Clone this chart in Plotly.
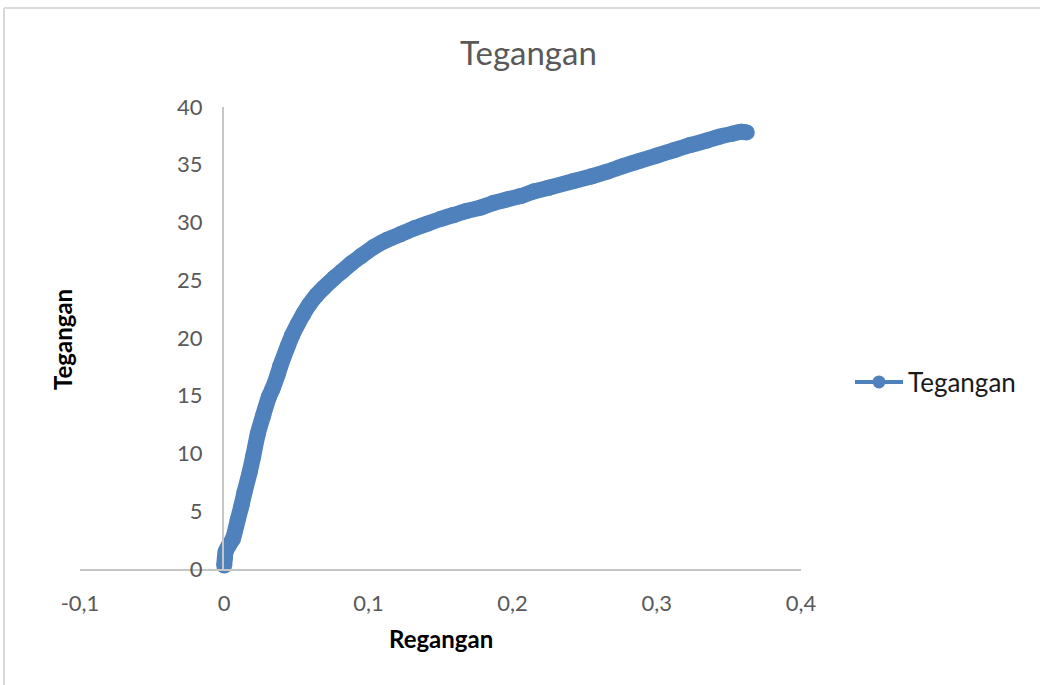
import plotly.graph_objects as go

# ---- data ----
regangan = [0.0, 0.0005, 0.001, 0.003, 0.006, 0.0095, 0.012, 0.014, 0.0175, 0.020,
            0.0233, 0.027, 0.031, 0.0335, 0.037, 0.039, 0.0441, 0.047, 0.051, 0.055,
            0.059, 0.064, 0.069, 0.0763, 0.082, 0.088, 0.095, 0.104, 0.113, 0.1225,
            0.132, 0.141, 0.150, 0.159, 0.168, 0.178, 0.187, 0.196, 0.206, 0.215,
            0.225, 0.2424, 0.255, 0.2655, 0.277, 0.2886, 0.300, 0.3116, 0.323, 0.3347,
            0.344, 0.353, 0.3585, 0.3624]
tegangan = [0.3, 1.0, 1.5, 2.0, 2.6, 4.3, 5.5, 6.6, 8.3, 9.7,
            11.7, 13.3, 14.9, 15.6, 16.8, 17.6, 19.3, 20.2, 21.2, 22.1,
            22.9, 23.7, 24.35, 25.2, 25.8, 26.45, 27.1, 27.9, 28.5, 29.0,
            29.5, 29.9, 30.3, 30.65, 31.0, 31.3, 31.7, 32.0, 32.3, 32.7,
            33.0, 33.6, 34.0, 34.4, 34.9, 35.35, 35.8, 36.25, 36.7, 37.1,
            37.45, 37.7, 37.85, 37.8]
x_tick_vals = [-0.1, 0.0, 0.1, 0.2, 0.3, 0.4]
x_tick_labels = ["-0,1", "0", "0,1", "0,2", "0,3", "0,4"]
y_tick_vals = [0, 5, 10, 15, 20, 25, 30, 35, 40]
y_tick_labels = ["0", "5", "10", "15", "20", "25", "30", "35", "40"]
series_name = "Tegangan"
chart_title = "Tegangan"
x_title = "Regangan"
y_title = "Tegangan"

# ---- layout geometry (pixels) ----
W, H = 1040, 685
L, R, T, B = 80, 801, 107, 569


def px(xp):
    return (xp - L) / (R - L)


def py(yp):
    return (B - yp) / (B - T)


BLUE = "#4f81bd"
FONT = "Lato"

fig = go.Figure()
fig.add_trace(go.Scatter(
    x=regangan, y=tegangan, mode="lines+markers",
    line=dict(color=BLUE, width=16, shape="spline", smoothing=0.6),
    marker=dict(color=BLUE, size=16),
    showlegend=False, cliponaxis=False, name=series_name,
))
fig.add_trace(go.Scatter(
    x=[None], y=[None], mode="lines+markers", name=series_name,
    line=dict(color=BLUE, width=4), marker=dict(color=BLUE, size=13),
))

fig.update_layout(
    width=W, height=H,
    margin=dict(l=L, r=W - R, t=T, b=H - B, pad=0),
    plot_bgcolor="white", paper_bgcolor="white",
    font=dict(family=FONT, color="#595959"),
    showlegend=True,
    legend=dict(x=px(850), y=py(382), xanchor="left", yanchor="middle",
                font=dict(family=FONT, size=26, color="#1a1a1a"),
                itemwidth=48, bgcolor="rgba(0,0,0,0)"),
    xaxis=dict(range=[-0.1, 0.4], tickvals=x_tick_vals, ticktext=x_tick_labels,
               showgrid=False, zeroline=False, showline=True,
               linecolor="#c6c6c6", linewidth=2,
               ticks="outside", ticklen=14, tickcolor="rgba(0,0,0,0)",
               tickfont=dict(family=FONT, size=22, color="#595959")),
    yaxis=dict(range=[0, 40], tickvals=y_tick_vals, ticktext=y_tick_labels,
               anchor="free", position=px(223),
               showgrid=False, zeroline=False, showline=True,
               linecolor="#c6c6c6", linewidth=2,
               ticks="outside", ticklen=15, tickcolor="rgba(0,0,0,0)",
               tickfont=dict(family=FONT, size=22, color="#595959")),
    annotations=[
        dict(text=chart_title, x=px(528), y=py(52), xref="paper", yref="paper",
             xanchor="center", yanchor="middle",
             showarrow=False, font=dict(family=FONT, size=33, color="#595959")),
        dict(text="<b>%s</b>" % x_title, x=px(441), y=py(638), xref="paper", yref="paper",
             xanchor="center", yanchor="middle",
             showarrow=False, font=dict(family=FONT, size=24, color="#000000")),
        dict(text="<b>%s</b>" % y_title, x=px(62), y=py(340), xref="paper", yref="paper",
             xanchor="center", yanchor="middle",
             showarrow=False, textangle=-90,
             font=dict(family=FONT, size=24, color="#000000")),
    ],
    shapes=[
        dict(type="line", xref="paper", yref="paper", x0=px(4), x1=px(1045),
             y0=py(8), y1=py(8), line=dict(color="#d9d9d9", width=2)),
        dict(type="line", xref="paper", yref="paper", x0=px(4), x1=px(4),
             y0=py(8), y1=py(690), line=dict(color="#d9d9d9", width=2)),
    ],
)

fig.write_html(
    "out.html",
    config={"displayModeBar": False},
    post_script="document.body.style.margin='0';document.body.style.overflow='hidden';",
)
